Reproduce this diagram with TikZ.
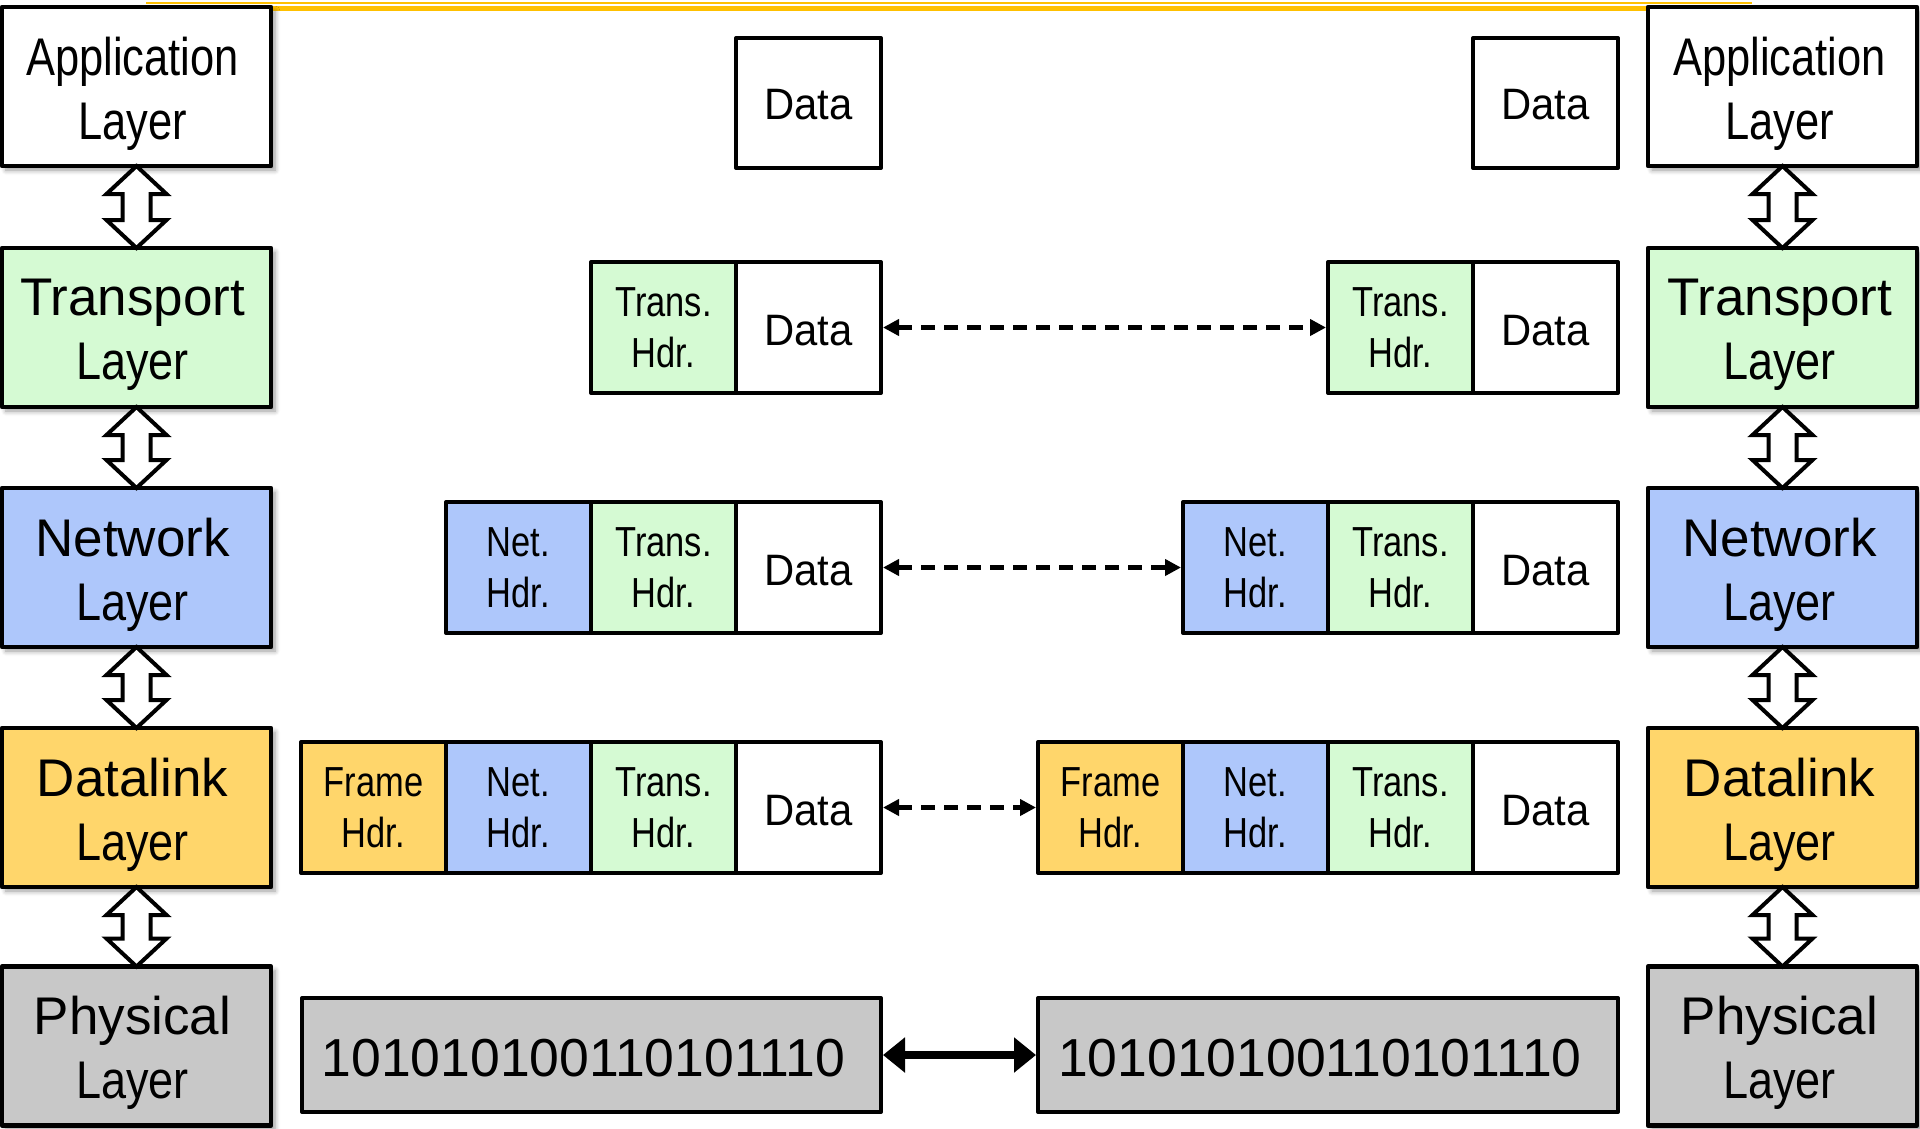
\documentclass[tikz,border=0pt]{standalone}
\usepackage{fontspec}
\setmainfont{Liberation Sans}
\newfontfamily\condfont[FakeStretch=0.82]{Liberation Sans}
\newfontfamily\layfont[FakeStretch=0.85]{Liberation Sans}
\newfontfamily\hdrfont[FakeStretch=0.82]{Liberation Sans}
\newfontfamily\datafont[FakeStretch=0.95]{Liberation Sans}
\usetikzlibrary{arrows.meta,shadows.blur,calc}
\definecolor{transgreen}{HTML}{D5FAD3}
\definecolor{netblue}{HTML}{AEC7FB}
\definecolor{dlyellow}{HTML}{FFD66B}
\definecolor{physgray}{HTML}{C8C8C8}
\definecolor{topline}{HTML}{FFC000}
\newcommand\updown[2]{%
  \draw[dblarr] (#1.south) -- ++(30,28) -- ++(-16,0) -- ($(#2.north)+(14,-28)$) -- ++(16,0) -- (#2.north)
    -- ++(-30,-28) -- ++(16,0) -- ($(#1.south)+(-14,28)$) -- ++(-16,0) -- cycle;}
\tikzset{
  layerbox/.style={draw, line width=4.5pt, line join=round, minimum width=269pt, minimum height=159pt,
    inner sep=0pt, outer sep=0pt,
    blur shadow={shadow xshift=4pt, shadow yshift=-4pt, shadow blur steps=6, shadow blur radius=5pt}},
  lbl/.style={align=center, inner sep=0pt, font=\fontsize{53}{64}\selectfont},
  cell/.style={draw, line width=4pt, line join=round, minimum width=145pt, minimum height=131pt,
    inner sep=0pt, align=center},
  hdr/.style={cell, font=\hdrfont\fontsize{42}{51}\selectfont},
  datacell/.style={cell, fill=white},
  datatext/.style={inner sep=0pt, font=\datafont\fontsize{44}{50}\selectfont},
  bitsbox/.style={draw, line width=4pt, line join=round, fill=physgray, minimum height=114pt,
    inner sep=0pt},
  bitstext/.style={inner sep=0pt, font=\fontsize{53.5}{60}\selectfont},
  dblarr/.style={draw=black, fill=white, line width=4pt, line join=miter},
  dasharr/.style={line width=5pt, dash pattern=on 14pt off 9pt, {Triangle[length=16pt,width=16pt]}-{Triangle[length=16pt,width=16pt]}},
  physarr/.style={line width=8pt, {Triangle[length=22pt,width=34pt]}-{Triangle[length=22pt,width=34pt]}}
}
\begin{document}
\begin{tikzpicture}[x=1pt,y=-1pt]
\useasboundingbox (0,0) rectangle (1920,1128);
% top lines
\draw[topline, line width=2pt] (146,2.5) -- (1752,2.5);
\draw[topline, line width=5pt] (146,8.5) -- (1700,8.5);
% left layer column
\node[layerbox, fill=white] (lapp) at (136.5,86.5) {};
\node[layerbox, fill=transgreen] (ltrans) at (136.5,327.5) {};
\node[layerbox, fill=netblue] (lnet) at (136.5,567.5) {};
\node[layerbox, fill=dlyellow] (ldl) at (136.5,807.5) {};
\node[layerbox, fill=physgray] (lphy) at (136.5,1046) {};
\node[lbl] (lappT) at ($(lapp.center)+(-4,7)$) {\condfont Application\\\condfont Layer};
\node[lbl] (ltransT) at ($(ltrans.center)+(-4,7)$) {Transport\\\layfont Layer};
\node[lbl] (lnetT) at ($(lnet.center)+(-4,7)$) {Network\\\layfont Layer};
\node[lbl] (ldlT) at ($(ldl.center)+(-4,7)$) {Datalink\\\layfont Layer};
\node[lbl] (lphyT) at ($(lphy.center)+(-4,7)$) {Physical\\\layfont Layer};
% right layer column
\node[layerbox, fill=white] (rapp) at (1782.5,86.5) {};
\node[layerbox, fill=transgreen] (rtrans) at (1782.5,327.5) {};
\node[layerbox, fill=netblue] (rnet) at (1782.5,567.5) {};
\node[layerbox, fill=dlyellow] (rdl) at (1782.5,807.5) {};
\node[layerbox, fill=physgray] (rphy) at (1782.5,1046) {};
\node[lbl] (rappT) at ($(rapp.center)+(-3,7)$) {\condfont Application\\\condfont Layer};
\node[lbl] (rtransT) at ($(rtrans.center)+(-3,7)$) {Transport\\\layfont Layer};
\node[lbl] (rnetT) at ($(rnet.center)+(-3,7)$) {Network\\\layfont Layer};
\node[lbl] (rdlT) at ($(rdl.center)+(-3,7)$) {Datalink\\\layfont Layer};
\node[lbl] (rphyT) at ($(rphy.center)+(-3,7)$) {Physical\\\layfont Layer};
% double arrows
\updown{lapp}{ltrans}
\updown{ltrans}{lnet}
\updown{lnet}{ldl}
\updown{ldl}{lphy}
\updown{rapp}{rtrans}
\updown{rtrans}{rnet}
\updown{rnet}{rdl}
\updown{rdl}{rphy}
% top data
\node[datacell, minimum height=130pt] (ldata0) at (808.5,103) {};
\node[datacell, minimum height=130pt] (rdata0) at (1545.5,103) {};
\node[datatext] (ldata0T) at ($(ldata0.center)+(0,2)$) {Data};
\node[datatext] (rdata0T) at ($(rdata0.center)+(0,2)$) {Data};
% transport row
\node[hdr, fill=transgreen] (ltT) at (663.5,327.5) {Trans.\\Hdr.};
\node[datacell] (ldT) at (808.5,327.5) {};
\node[hdr, fill=transgreen] (rtT) at (1400.5,327.5) {Trans.\\Hdr.};
\node[datacell] (rdT) at (1545.5,327.5) {};
% network row
\node[hdr, fill=netblue] (lnN) at (518.5,567.5) {Net.\\Hdr.};
\node[hdr, fill=transgreen] (ltN) at (663.5,567.5) {Trans.\\Hdr.};
\node[datacell] (ldN) at (808.5,567.5) {};
\node[hdr, fill=netblue] (rnN) at (1255.5,567.5) {Net.\\Hdr.};
\node[hdr, fill=transgreen] (rtN) at (1400.5,567.5) {Trans.\\Hdr.};
\node[datacell] (rdN) at (1545.5,567.5) {};
% datalink row
\node[hdr, fill=dlyellow] (lfF) at (373.5,807.5) {Frame\\Hdr.};
\node[hdr, fill=netblue] (lnF) at (518.5,807.5) {Net.\\Hdr.};
\node[hdr, fill=transgreen] (ltF) at (663.5,807.5) {Trans.\\Hdr.};
\node[datacell] (ldF) at (808.5,807.5) {};
\node[hdr, fill=dlyellow] (rfF) at (1110.5,807.5) {Frame\\Hdr.};
\node[hdr, fill=netblue] (rnF) at (1255.5,807.5) {Net.\\Hdr.};
\node[hdr, fill=transgreen] (rtF) at (1400.5,807.5) {Trans.\\Hdr.};
\node[datacell] (rdF) at (1545.5,807.5) {};
\foreach \n in {ldT,rdT,ldN,rdN,ldF,rdF}
  \node[datatext] (\n T) at ($(\n.center)+(0,3)$) {Data};
% physical row
\node[bitsbox, minimum width=579pt] (lbits) at (591.5,1055) {};
\node[bitsbox, minimum width=580pt] (rbits) at (1328,1055) {};
\node[bitstext] (lbitsT) at ($(lbits.center)+(-8,3)$) {101010100110101110};
\node[bitstext] (rbitsT) at ($(rbits.center)+(-8,3)$) {101010100110101110};
% connectors
\draw[dasharr] (ldT.east) -- (rtT.west);
\draw[dasharr] (ldN.east) -- (rnN.west);
\draw[dasharr] (ldF.east) -- (rfF.west);
\draw[physarr] (lbits.east) -- (rbits.west);
\end{tikzpicture}
\end{document}
